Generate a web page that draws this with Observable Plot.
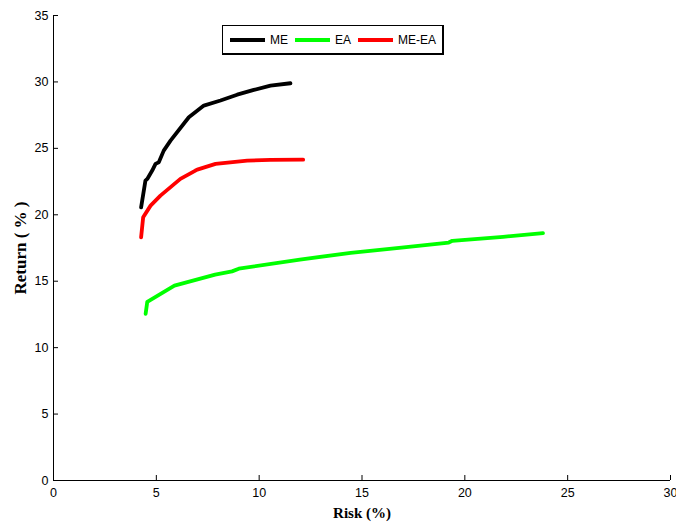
<!DOCTYPE html>
<html>
<head>
<meta charset="utf-8">
<script src="https://cdn.jsdelivr.net/npm/d3@7"></script>
<script src="https://cdn.jsdelivr.net/npm/@observablehq/plot@0.6"></script>
<style>
  body { margin: 0; background: #fff; }
  #wrap { position: relative; width: 676px; height: 528px; }
  #legend { position: absolute; left: 222px; top: 25px; width: 219px; height: 27px;
    border: 1px solid #000; border-right-width: 2px; border-bottom-width: 2px; background: #fff;
    font: 12px "Liberation Sans", Arial, sans-serif; display: flex; align-items: center; }
  .item { display: flex; align-items: center; margin-left: 7px; }
  .sw { width: 35px; height: 4px; margin-right: 5px; }
  svg text { fill: #000; }
</style>
</head>
<body>
<div id="wrap"></div>
<script>
const seriesNames = ["ME", "EA", "ME-EA"];
const seriesColors = ["#000000", "#00ff00", "#ff0000"];

const meRisk   = [4.26, 4.47, 4.56, 4.80, 4.96, 5.12, 5.36, 5.69, 6.58, 7.31, 8.12, 8.93, 9.74, 10.55, 11.52];
const meReturn = [20.56, 22.57, 22.70, 23.33, 23.83, 23.95, 24.83, 25.58, 27.34, 28.22, 28.60, 29.04, 29.40, 29.72, 29.90];

const eaRisk   = [4.48, 4.56, 5.88, 7.86, 8.68, 9.01, 11.98, 14.45, 16.92, 19.22, 19.39, 21.86, 23.80];
const eaReturn = [12.55, 13.45, 14.67, 15.49, 15.74, 15.94, 16.63, 17.14, 17.52, 17.91, 18.04, 18.34, 18.62];

const meeaRisk   = [4.26, 4.36, 4.72, 5.20, 6.17, 6.90, 6.99, 7.88, 9.42, 10.55, 12.14];
const meeaReturn = [18.31, 19.81, 20.69, 21.44, 22.70, 23.33, 23.40, 23.83, 24.08, 24.13, 24.15];

const xTicks = [0, 5, 10, 15, 20, 25, 30];
const yTicks = [0, 5, 10, 15, 20, 25, 30, 35];

const toRows = (xs, ys, s) => xs.map((x, i) => ({risk: x, ret: ys[i], series: s}));
const data = [
  ...toRows(meRisk, meReturn, "ME"),
  ...toRows(eaRisk, eaReturn, "EA"),
  ...toRows(meeaRisk, meeaReturn, "ME-EA")
];

const W = 676, H = 528, mL = 53, mR = 6, mT = 15, mB = 48;
const plotW = W - mL - mR, plotH = H - mT - mB;

const chart = Plot.plot({
  width: W, height: H,
  marginLeft: mL, marginRight: mR, marginTop: mT, marginBottom: mB,
  style: {fontFamily: "'Liberation Sans', Arial, sans-serif", fontSize: "12.5px", background: "#fff", color: "#000"},
  x: {domain: [0, 30]},
  y: {domain: [0, 35]},
  color: {domain: seriesNames, range: seriesColors},
  marks: [
    Plot.axisX({ticks: xTicks, tickSize: 0, tickPadding: 8, label: null, tickFormat: d => d}),
    Plot.axisY({ticks: yTicks, tickSize: 0, tickPadding: 5, label: null, tickFormat: d => d}),
    Plot.tickY(yTicks, {y: d => d, insetRight: plotW - 5, stroke: "#000", strokeWidth: 1}),
    Plot.tickX(xTicks, {x: d => d, insetTop: plotH - 5, stroke: "#000", strokeWidth: 1}),
    Plot.ruleX([0], {stroke: "#000", strokeWidth: 1}),
    Plot.ruleY([0], {stroke: "#000", strokeWidth: 1}),
    Plot.line(data, {x: "risk", y: "ret", z: "series", stroke: "series", strokeWidth: 3.8, strokeLinejoin: "round"}),
    Plot.text(["Risk (%)"], {frameAnchor: "bottom", dy: 37, text: d => d, fontFamily: "'Liberation Serif', 'Times New Roman', serif", fontWeight: "bold", fontSize: 15}),
    Plot.text(["Return ( % )"], {frameAnchor: "left", textAnchor: "middle", lineAnchor: "middle", dx: -33, rotate: -90, text: d => d, fontFamily: "'Liberation Serif', 'Times New Roman', serif", fontWeight: "bold", fontSize: 17})
  ]
});

const wrap = document.getElementById("wrap");
wrap.appendChild(chart);

const legend = document.createElement("div");
legend.id = "legend";
seriesNames.forEach((n, i) => {
  const it = document.createElement("div");
  it.className = "item";
  const sw = document.createElement("div");
  sw.className = "sw";
  sw.style.background = seriesColors[i];
  const lb = document.createElement("span");
  lb.textContent = n;
  it.appendChild(sw); it.appendChild(lb);
  legend.appendChild(it);
});
wrap.appendChild(legend);
</script>
</body>
</html>
